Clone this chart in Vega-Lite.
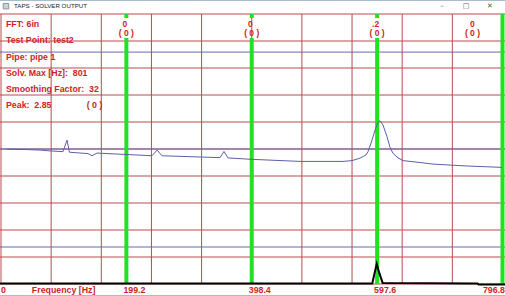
{
  "$schema": "https://vega.github.io/schema/vega-lite/v6.json",
  "width": 505,
  "height": 270,
  "autosize": "none",
  "padding": {"left": 0, "right": 0, "top": 14, "bottom": 12},
  "background": "white",
  "config": {"view": {"stroke": null}, "font": "Liberation Sans"},
  "layer": [
    {
      "data": {"values": [{"f": 0}, {"f": 79.68}, {"f": 159.36}, {"f": 239.04}, {"f": 318.72}, {"f": 398.4}, {"f": 478.08}, {"f": 557.76}, {"f": 637.44}, {"f": 717.12}, {"f": 796.8}]},
      "mark": {"type": "rule", "color": "#b84c4c", "strokeWidth": 1},
      "encoding": {
        "x": {"field": "f", "type": "quantitative", "scale": {"domain": [-1.6, 800.8], "nice": false, "zero": false}, "axis": null},
        "y": {"datum": 0, "type": "quantitative", "scale": {"domain": [0, 10], "nice": false, "zero": false}, "axis": null},
        "y2": {"datum": 10}
      }
    },
    {
      "data": {"values": [{"u": 0}, {"u": 1}, {"u": 2}, {"u": 3}, {"u": 4}, {"u": 5}, {"u": 6}, {"u": 7}, {"u": 8}, {"u": 9}, {"u": 10}]},
      "mark": {"type": "rule", "color": "#b84c4c", "strokeWidth": 1},
      "encoding": {
        "x": {"datum": -1.6, "type": "quantitative", "scale": {"domain": [-1.6, 800.8], "nice": false, "zero": false}, "axis": null},
        "x2": {"datum": 800.8},
        "y": {"field": "u", "type": "quantitative", "scale": {"domain": [0, 10], "nice": false, "zero": false}, "axis": null}
      }
    },
    {
      "data": {"values": [{"u": 8.59}, {"u": 5.0}, {"u": 1.37}]},
      "mark": {"type": "rule", "color": "#6868b2", "strokeWidth": 1},
      "encoding": {
        "x": {"datum": -1.6, "type": "quantitative", "scale": {"domain": [-1.6, 800.8], "nice": false, "zero": false}, "axis": null},
        "x2": {"datum": 800.8},
        "y": {"field": "u", "type": "quantitative", "scale": {"domain": [0, 10], "nice": false, "zero": false}, "axis": null}
      }
    },
    {
      "data": {"values": [
        {"f": 199.2, "lo": 0, "hi": 9.11}, {"f": 199.2, "lo": 9.85, "hi": 10},
        {"f": 398.4, "lo": 0, "hi": 9.11}, {"f": 398.4, "lo": 9.85, "hi": 10},
        {"f": 597.6, "lo": 0, "hi": 9.11}, {"f": 597.6, "lo": 9.85, "hi": 10},
        {"f": 796.8, "lo": 0, "hi": 10}
      ]},
      "mark": {"type": "rule", "color": "#22e022", "strokeWidth": 4},
      "encoding": {
        "x": {"field": "f", "type": "quantitative", "scale": {"domain": [-1.6, 800.8], "nice": false, "zero": false}, "axis": null},
        "y": {"field": "lo", "type": "quantitative", "scale": {"domain": [0, 10], "nice": false, "zero": false}, "axis": null},
        "y2": {"field": "hi"}
      }
    },
    {
      "data": {"values": [
        {"f": 9.5, "u": 4.99}, {"f": 40, "u": 4.98}, {"f": 62, "u": 4.96}, {"f": 78, "u": 4.93}, {"f": 98.5, "u": 4.9},
        {"f": 104.9, "u": 5.33}, {"f": 108.8, "u": 4.88}, {"f": 138.2, "u": 4.83}, {"f": 144.6, "u": 4.75}, {"f": 152.5, "u": 4.85},
        {"f": 239.9, "u": 4.75}, {"f": 247.9, "u": 4.96}, {"f": 255.8, "u": 4.75}, {"f": 348, "u": 4.68}, {"f": 354.3, "u": 4.91},
        {"f": 360.7, "u": 4.67}, {"f": 395.6, "u": 4.62}, {"f": 475, "u": 4.54}, {"f": 543.4, "u": 4.54}, {"f": 557.7, "u": 4.57},
        {"f": 570.4, "u": 4.66}, {"f": 579.9, "u": 4.78}, {"f": 583.1, "u": 4.9}, {"f": 589.5, "u": 5.33}, {"f": 594.2, "u": 5.7},
        {"f": 599, "u": 5.98}, {"f": 602.2, "u": 6.05}, {"f": 606.9, "u": 5.89}, {"f": 613.3, "u": 5.46}, {"f": 618, "u": 5.07},
        {"f": 622.8, "u": 4.84}, {"f": 630.8, "u": 4.67}, {"f": 638.7, "u": 4.57}, {"f": 665.7, "u": 4.5}, {"f": 686.4, "u": 4.44},
        {"f": 740.4, "u": 4.37}, {"f": 796, "u": 4.32}
      ]},
      "mark": {"type": "line", "color": "#5e5eaa", "strokeWidth": 1},
      "encoding": {
        "x": {"field": "f", "type": "quantitative", "scale": {"domain": [-1.6, 800.8], "nice": false, "zero": false}, "axis": null},
        "y": {"field": "u", "type": "quantitative", "scale": {"domain": [0, 10], "nice": false, "zero": false}, "axis": null}
      }
    },
    {
      "data": {"values": [
        {"f": -1.6, "u": 0.02}, {"f": 589.9, "u": 0.02}, {"f": 593.5, "u": 0.4}, {"f": 597, "u": 0.74},
        {"f": 601, "u": 0.41}, {"f": 606.4, "u": 0.04}, {"f": 757, "u": 0.02}, {"f": 759, "u": -0.02}, {"f": 800.8, "u": -0.02}
      ]},
      "mark": {"type": "line", "color": "#000000", "strokeWidth": 2},
      "encoding": {
        "x": {"field": "f", "type": "quantitative", "scale": {"domain": [-1.6, 800.8], "nice": false, "zero": false}, "axis": null},
        "y": {"field": "u", "type": "quantitative", "scale": {"domain": [0, 10], "nice": false, "zero": false}, "axis": null}
      }
    },
    {
      "data": {"values": [{"t": "FFT: 6in\nTest Point: test2\nPipe: pipe 1\nSolv. Max [Hz]: \u00a0801\nSmoothing Factor: \u00a032\nPeak: \u00a02.85"}]},
      "mark": {"type": "text", "align": "left", "baseline": "top", "lineBreak": "\n", "lineHeight": 16.2, "fontSize": 8.8, "fontWeight": "bold", "color": "#cc2424"},
      "encoding": {
        "text": {"field": "t", "type": "nominal"},
        "x": {"datum": 7.9, "type": "quantitative", "scale": {"domain": [-1.6, 800.8], "nice": false, "zero": false}, "axis": null},
        "y": {"datum": 9.77, "type": "quantitative", "scale": {"domain": [0, 10], "nice": false, "zero": false}, "axis": null}
      }
    },
    {
      "data": {"values": [{"t": "( 0 )"}]},
      "mark": {"type": "text", "align": "center", "baseline": "middle", "fontSize": 8.8, "fontWeight": "bold", "color": "#cc2424"},
      "encoding": {
        "text": {"field": "t", "type": "nominal"},
        "x": {"datum": 148.6, "type": "quantitative", "scale": {"domain": [-1.6, 800.8], "nice": false, "zero": false}, "axis": null},
        "y": {"datum": 6.63, "type": "quantitative", "scale": {"domain": [0, 10], "nice": false, "zero": false}, "axis": null}
      }
    },
    {
      "data": {"values": [{"f": 199.2, "v": "0"}, {"f": 398.4, "v": "0"}, {"f": 597.6, "v": ".2"}]},
      "mark": {"type": "text", "align": "center", "baseline": "middle", "fontSize": 8.5, "fontWeight": "bold", "color": "#cc2424", "dx": -1.5},
      "encoding": {
        "text": {"field": "v", "type": "nominal"},
        "x": {"field": "f", "type": "quantitative", "scale": {"domain": [-1.6, 800.8], "nice": false, "zero": false}, "axis": null},
        "y": {"datum": 9.63, "type": "quantitative", "scale": {"domain": [0, 10], "nice": false, "zero": false}, "axis": null}
      }
    },
    {
      "data": {"values": [{"f": 199.2, "p": "( 0 )"}, {"f": 398.4, "p": "( 0 )"}, {"f": 597.6, "p": "( 0 )"}]},
      "mark": {"type": "text", "align": "center", "baseline": "middle", "fontSize": 8.5, "fontWeight": "bold", "color": "#cc2424"},
      "encoding": {
        "text": {"field": "p", "type": "nominal"},
        "x": {"field": "f", "type": "quantitative", "scale": {"domain": [-1.6, 800.8], "nice": false, "zero": false}, "axis": null},
        "y": {"datum": 9.3, "type": "quantitative", "scale": {"domain": [0, 10], "nice": false, "zero": false}, "axis": null}
      }
    },
    {
      "data": {"values": [{"f": 796.8, "v": "0"}]},
      "mark": {"type": "text", "align": "center", "baseline": "middle", "fontSize": 8.5, "fontWeight": "bold", "color": "#cc2424", "dx": -30},
      "encoding": {
        "text": {"field": "v", "type": "nominal"},
        "x": {"field": "f", "type": "quantitative", "scale": {"domain": [-1.6, 800.8], "nice": false, "zero": false}, "axis": null},
        "y": {"datum": 9.63, "type": "quantitative", "scale": {"domain": [0, 10], "nice": false, "zero": false}, "axis": null}
      }
    },
    {
      "data": {"values": [{"f": 796.8, "p": "( 0 )"}]},
      "mark": {"type": "text", "align": "center", "baseline": "middle", "fontSize": 8.5, "fontWeight": "bold", "color": "#cc2424", "dx": -30},
      "encoding": {
        "text": {"field": "p", "type": "nominal"},
        "x": {"field": "f", "type": "quantitative", "scale": {"domain": [-1.6, 800.8], "nice": false, "zero": false}, "axis": null},
        "y": {"datum": 9.3, "type": "quantitative", "scale": {"domain": [0, 10], "nice": false, "zero": false}, "axis": null}
      }
    },
    {
      "data": {"values": [{"f": 0, "lab": "0"}, {"f": 49, "lab": "Frequency [Hz]"}]},
      "mark": {"type": "text", "align": "left", "baseline": "middle", "fontSize": 8.8, "fontWeight": "bold", "color": "#cc2424"},
      "encoding": {
        "text": {"field": "lab", "type": "nominal"},
        "x": {"field": "f", "type": "quantitative", "scale": {"domain": [-1.6, 800.8], "nice": false, "zero": false}, "axis": null},
        "y": {"datum": -0.22, "type": "quantitative", "scale": {"domain": [0, 10], "nice": false, "zero": false}, "axis": null}
      }
    },
    {
      "data": {"values": [{"f": 199.2, "lab": "199.2"}, {"f": 398.4, "lab": "398.4"}, {"f": 597.6, "lab": "597.6"}]},
      "mark": {"type": "text", "align": "left", "baseline": "middle", "fontSize": 8.8, "fontWeight": "bold", "color": "#cc2424", "dx": -3},
      "encoding": {
        "text": {"field": "lab", "type": "nominal"},
        "x": {"field": "f", "type": "quantitative", "scale": {"domain": [-1.6, 800.8], "nice": false, "zero": false}, "axis": null},
        "y": {"datum": -0.22, "type": "quantitative", "scale": {"domain": [0, 10], "nice": false, "zero": false}, "axis": null}
      }
    },
    {
      "data": {"values": [{"f": 796.8, "lab": "796.8"}]},
      "mark": {"type": "text", "align": "right", "baseline": "middle", "fontSize": 8.8, "fontWeight": "bold", "color": "#cc2424", "dx": 2.5},
      "encoding": {
        "text": {"field": "lab", "type": "nominal"},
        "x": {"field": "f", "type": "quantitative", "scale": {"domain": [-1.6, 800.8], "nice": false, "zero": false}, "axis": null},
        "y": {"datum": -0.22, "type": "quantitative", "scale": {"domain": [0, 10], "nice": false, "zero": false}, "axis": null}
      }
    },
    {
      "data": {"values": [{"t": "TAPS - SOLVER OUTPUT"}]},
      "mark": {"type": "text", "align": "left", "baseline": "middle", "fontSize": 6.2, "color": "#222222"},
      "encoding": {
        "text": {"field": "t", "type": "nominal"},
        "x": {"datum": 20.7, "type": "quantitative", "scale": {"domain": [-1.6, 800.8], "nice": false, "zero": false}, "axis": null},
        "y": {"datum": 10.29, "type": "quantitative", "scale": {"domain": [0, 10], "nice": false, "zero": false}, "axis": null}
      }
    },
    {
      "data": {"values": [{"icon": "app"}]},
      "mark": {"type": "point", "shape": "square", "size": 30, "filled": true, "color": "#b8bec6", "stroke": "#5a6470", "strokeWidth": 1},
      "encoding": {
        "x": {"datum": 7.9, "type": "quantitative", "scale": {"domain": [-1.6, 800.8], "nice": false, "zero": false}, "axis": null},
        "y": {"datum": 10.29, "type": "quantitative", "scale": {"domain": [0, 10], "nice": false, "zero": false}, "axis": null}
      }
    },
    {
      "data": {"values": [{"f": 700.7, "g": "–"}, {"f": 738.8, "g": "□"}, {"f": 777, "g": "✕"}]},
      "mark": {"type": "text", "align": "center", "baseline": "middle", "fontSize": 7, "color": "#555555", "font": "DejaVu Sans"},
      "encoding": {
        "text": {"field": "g", "type": "nominal"},
        "x": {"field": "f", "type": "quantitative", "scale": {"domain": [-1.6, 800.8], "nice": false, "zero": false}, "axis": null},
        "y": {"datum": 10.29, "type": "quantitative", "scale": {"domain": [0, 10], "nice": false, "zero": false}, "axis": null}
      }
    },
    {
      "data": {"values": [{"u": 10.5}, {"u": -0.425}]},
      "mark": {"type": "rule", "color": "#a8bccc", "strokeWidth": 1},
      "encoding": {
        "x": {"datum": -1.6, "type": "quantitative", "scale": {"domain": [-1.6, 800.8], "nice": false, "zero": false}, "axis": null},
        "x2": {"datum": 800.8},
        "y": {"field": "u", "type": "quantitative", "scale": {"domain": [0, 10], "nice": false, "zero": false}, "axis": null}
      }
    }
  ]
}
